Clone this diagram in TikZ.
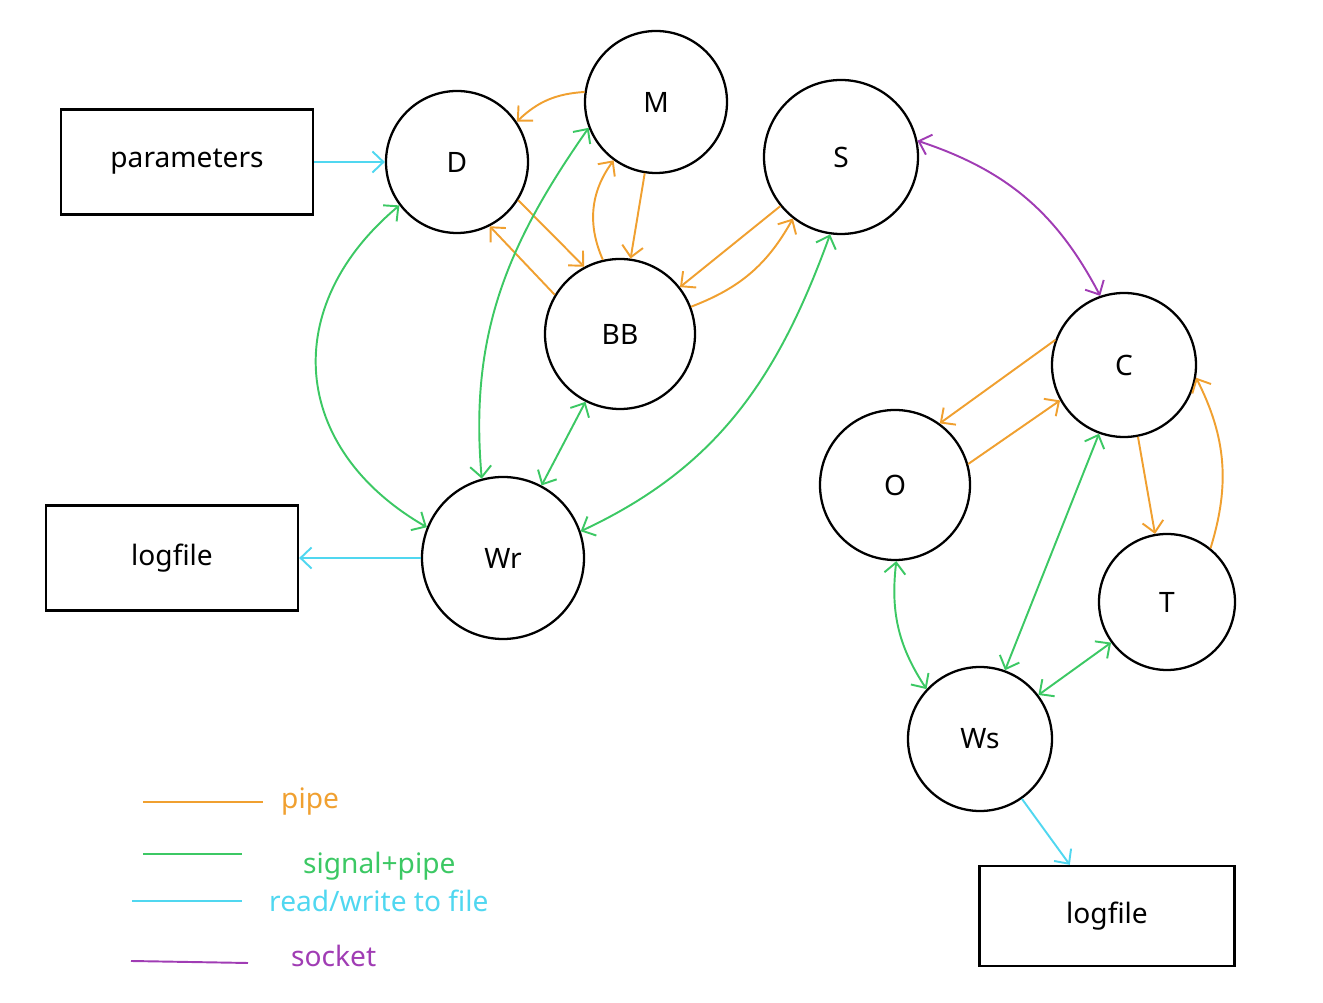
\documentclass[tikz,border=0pt]{standalone}
\usepackage{fontspec}
\setmainfont{Noto Sans}
\usetikzlibrary{arrows.meta}
\definecolor{pipecol}{HTML}{F0A030}
\definecolor{sigcol}{HTML}{3CC864}
\definecolor{rwcol}{HTML}{50D7F0}
\definecolor{sockcol}{HTML}{A03CB4}
\begin{document}
\begin{tikzpicture}[>={Straight Barb[length=2.2mm,width=4.2mm]},font=\fontsize{16}{19}\selectfont,
 proc/.style={circle,draw,line width=1.3pt,inner sep=0pt},
 filebox/.style={draw,line width=1.3pt,minimum width=5.04cm,minimum height=2.1cm},
 pipe/.style={->,pipecol,line width=1.1pt},
 sigpipe/.style={<->,sigcol,line width=1.1pt},
 rw/.style={->,rwcol,line width=1.1pt},
 sock/.style={<->,sockcol,line width=1.1pt}]
\useasboundingbox (0,0) rectangle (26.46,20.06);
\node[filebox] (par) at (3.74,16.82) {parameters};
\node[proc,minimum size=2.84cm] (D) at (9.14,16.82) {D};
\node[proc,minimum size=2.84cm] (M) at (13.12,18.02) {M};
\node[proc,minimum size=3.08cm] (S) at (16.82,16.92) {S};
\node[proc,minimum size=3.0cm] (BB) at (12.40,13.38) {BB};
\node[proc,minimum size=3.24cm] (Wr) at (10.06,8.90) {Wr};
\node[filebox] (logL) at (3.44,8.90) {logfile};
\node[proc,minimum size=2.88cm] (C) at (22.48,12.76) {C};
\node[proc,minimum size=3.0cm] (O) at (17.90,10.36) {O};
\node[proc,minimum size=2.72cm] (T) at (23.34,8.02) {T};
\node[proc,minimum size=2.88cm] (Ws) at (19.60,5.28) {Ws};
\node[filebox,minimum width=5.1cm,minimum height=2.0cm] (logR) at (22.14,1.74) {logfile};
% pipes
\draw[pipe] (M.172) to[bend right=20] (D.34);
\draw[pipe] (D.-32) -- (BB.118);
\draw[pipe] (BB.149) -- (D.-63);
\draw[pipe] (BB.103) to[bend left=30] (M.234);
\draw[pipe] (M.-99) -- (BB.82);
\draw[pipe] (S.219) -- (BB.38);
\draw[pipe] (BB.21) to[bend right=20] (S.232);
\draw[pipe] (C.160) -- (O.54);
\draw[pipe] (O.16) -- (C.209);
\draw[pipe] (C.-79) -- (T.100);
\draw[pipe] (T.51) to[bend right=22] (C.-10);
% signal+pipe
\draw[sigpipe] (D.217) to[out=220,in=150,looseness=1.25] (Wr.158);
\draw[sigpipe] (Wr.105) to[out=95,in=235] (M.201);
\draw[sigpipe] (BB.243) -- (Wr.62);
\draw[sigpipe] (S.262) to[out=250,in=25] (Wr.19);
\draw[sigpipe] (O.271) to[bend right=20] (Ws.137);
\draw[sigpipe] (C.250) -- (Ws.70);
\draw[sigpipe] (T.216) -- (Ws.37);
% files and socket
\draw[rw] (par.east) -- (D.west);
\draw[rw] (Wr.west) -- (logL.east);
\draw[rw] (Ws.-55) -- (logR.126);
\draw[sock] (S.12) to[bend left=22] (C.109);
% legend
\draw[pipecol,line width=1.1pt] (2.86,4.02) -- (5.26,4.02);
\node[pipecol,anchor=west] (lpipe) at (5.50,4.02) {pipe};
\draw[sigcol,line width=1.1pt] (2.86,2.98) -- (4.84,2.98);
\node[sigcol,anchor=west] (lsig) at (5.94,2.74) {signal+pipe};
\draw[rwcol,line width=1.1pt] (2.64,2.04) -- (4.84,2.04);
\node[rwcol,anchor=west] (lrw) at (5.26,2.04) {read/write to file};
\draw[sockcol,line width=1.1pt] (2.62,0.84) -- (4.96,0.80);
\node[sockcol,anchor=west] (lsock) at (5.70,0.94) {socket};
\end{tikzpicture}
\end{document}
